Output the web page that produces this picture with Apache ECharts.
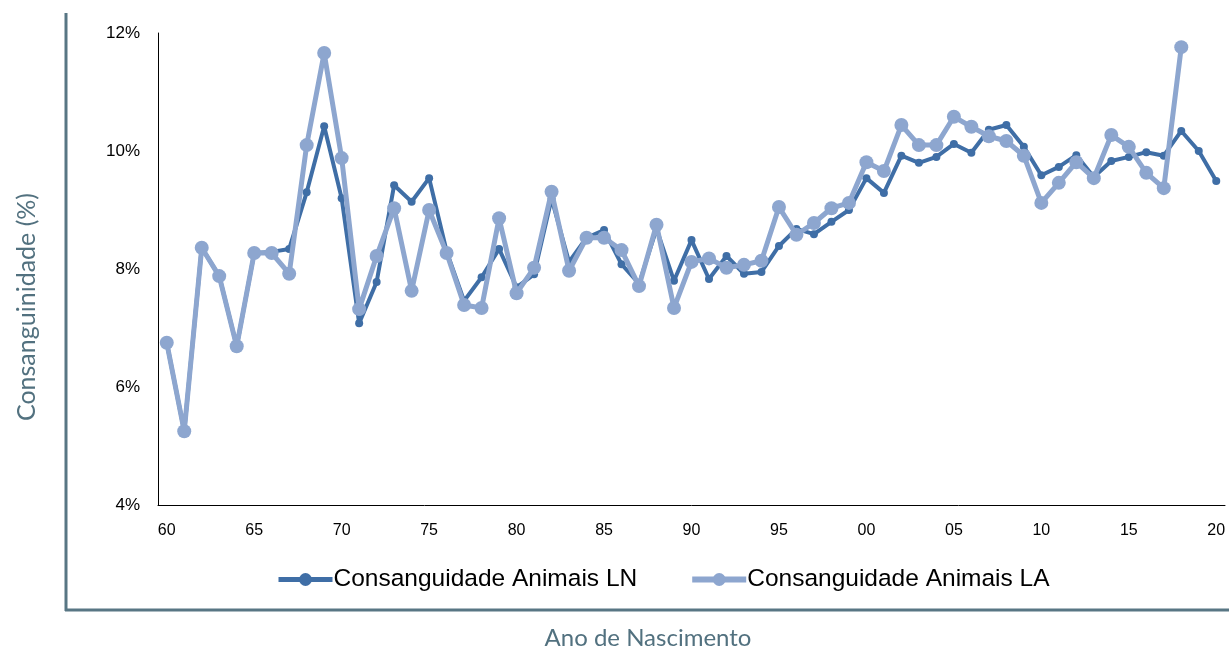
<!DOCTYPE html>
<html>
<head>
<meta charset="utf-8">
<script src="https://cdn.jsdelivr.net/npm/echarts@6/dist/echarts.min.js"></script>
<style>
html,body{margin:0;padding:0;background:#fff;}
#chart{width:1229px;height:654px;}
</style>
</head>
<body>
<div id="chart"></div>
<script>
var years = ['60','61','62','63','64','65','66','67','68','69','70','71','72','73','74','75','76','77','78','79','80','81','82','83','84','85','86','87','88','89','90','91','92','93','94','95','96','97','98','99','00','01','02','03','04','05','06','07','08','09','10','11','12','13','14','15','16','17','18','19','20'];
var consLN = [6.75,5.25,8.36,7.88,6.69,8.27,8.29,8.34,9.30,10.42,9.20,7.08,7.78,9.42,9.14,9.54,8.30,7.46,7.86,8.34,7.69,7.91,9.19,8.12,8.53,8.66,8.08,7.75,8.68,7.80,8.49,7.83,8.22,7.92,7.95,8.39,8.68,8.59,8.80,9.00,9.54,9.29,9.92,9.80,9.90,10.12,9.97,10.36,10.44,10.07,9.59,9.73,9.93,9.56,9.83,9.90,9.98,9.92,10.34,10.00,9.49];
var consLA = [6.75,5.25,8.36,7.88,6.69,8.27,8.27,7.92,10.10,11.66,9.88,7.32,8.22,9.03,7.63,9.00,8.27,7.39,7.34,8.86,7.59,8.02,9.31,7.97,8.53,8.53,8.32,7.71,8.75,7.34,8.12,8.18,8.02,8.07,8.14,9.05,8.58,8.78,9.03,9.12,9.81,9.66,10.44,10.10,10.10,10.58,10.41,10.25,10.17,9.92,9.12,9.46,9.81,9.54,10.27,10.07,9.63,9.37,11.76,null,null];
var seriesNames = ['Consanguidade Animais LN','Consanguidade Animais LA'];
var yTicks = {min:4, max:12, interval:2};
var axisTitles = {x:'Ano de Nascimento', y:'Consanguinidade (%)'};

var chart = echarts.init(document.getElementById('chart'), null, {renderer:'canvas'});
var frameColor = '#587684';
var titleColor = '#52717f';
var titleFont = 'Lato, "Open Sans", sans-serif';
var lnColor = '#3F6EA6', laColor = '#8DA6CF';
var option = {
  animation:false,
  backgroundColor:'#ffffff',
  textStyle:{fontFamily:'"Liberation Sans", Arial, sans-serif'},
  grid:{left:158, right:4, top:33, bottom:149, containLabel:false, outerBoundsMode:'none'},
  legend:{
    top:562, left:271, itemWidth:54, itemHeight:16, itemGap:52,
    textStyle:{fontSize:24.5, color:'#000', fontFamily:'"Liberation Sans", Arial, sans-serif', padding:[0,0,0,-4]},
    data:[
      {name:seriesNames[0], lineStyle:{width:5, color:lnColor}, itemStyle:{color:lnColor}},
      {name:seriesNames[1], lineStyle:{width:6, color:laColor}, itemStyle:{color:laColor}}
    ]
  },
  xAxis:{
    type:'category', data:years, boundaryGap:true,
    axisLine:{lineStyle:{color:'#000', width:1}},
    axisTick:{show:false},
    axisLabel:{interval:4, fontSize:16, color:'#000', margin:18},
    splitLine:{show:false}
  },
  yAxis:{
    type:'value', min:yTicks.min, max:yTicks.max, interval:yTicks.interval,
    axisLine:{show:true, lineStyle:{color:'#000', width:1}},
    axisTick:{show:false},
    axisLabel:{formatter:'{value}%', fontSize:17, color:'#000', margin:18},
    splitLine:{show:false}
  },
  series:[
    {
      name:seriesNames[0], type:'line', data:consLN, z:2,
      symbol:'circle', symbolSize:8, showAllSymbol:true,
      lineStyle:{color:lnColor, width:4},
      itemStyle:{color:lnColor}
    },
    {
      name:seriesNames[1], type:'line', data:consLA, z:3,
      symbol:'circle', symbolSize:14, showAllSymbol:true,
      lineStyle:{color:laColor, width:5},
      itemStyle:{color:laColor}
    }
  ],
  graphic:[
    {type:'line', shape:{x1:66, y1:13, x2:66, y2:611}, style:{stroke:frameColor, lineWidth:3}},
    {type:'line', shape:{x1:65, y1:610, x2:1229, y2:610}, style:{stroke:frameColor, lineWidth:3}},
    {type:'text', x:648, y:638, style:{text:axisTitles.x, fill:titleColor, font:'24px ' + titleFont, align:'center', verticalAlign:'middle'}},
    {type:'text', x:27, y:307, rotation:Math.PI/2, style:{text:axisTitles.y, fill:titleColor, font:'25px ' + titleFont, align:'center', verticalAlign:'middle'}}
  ]
};
chart.setOption(option);
</script>
</body>
</html>
